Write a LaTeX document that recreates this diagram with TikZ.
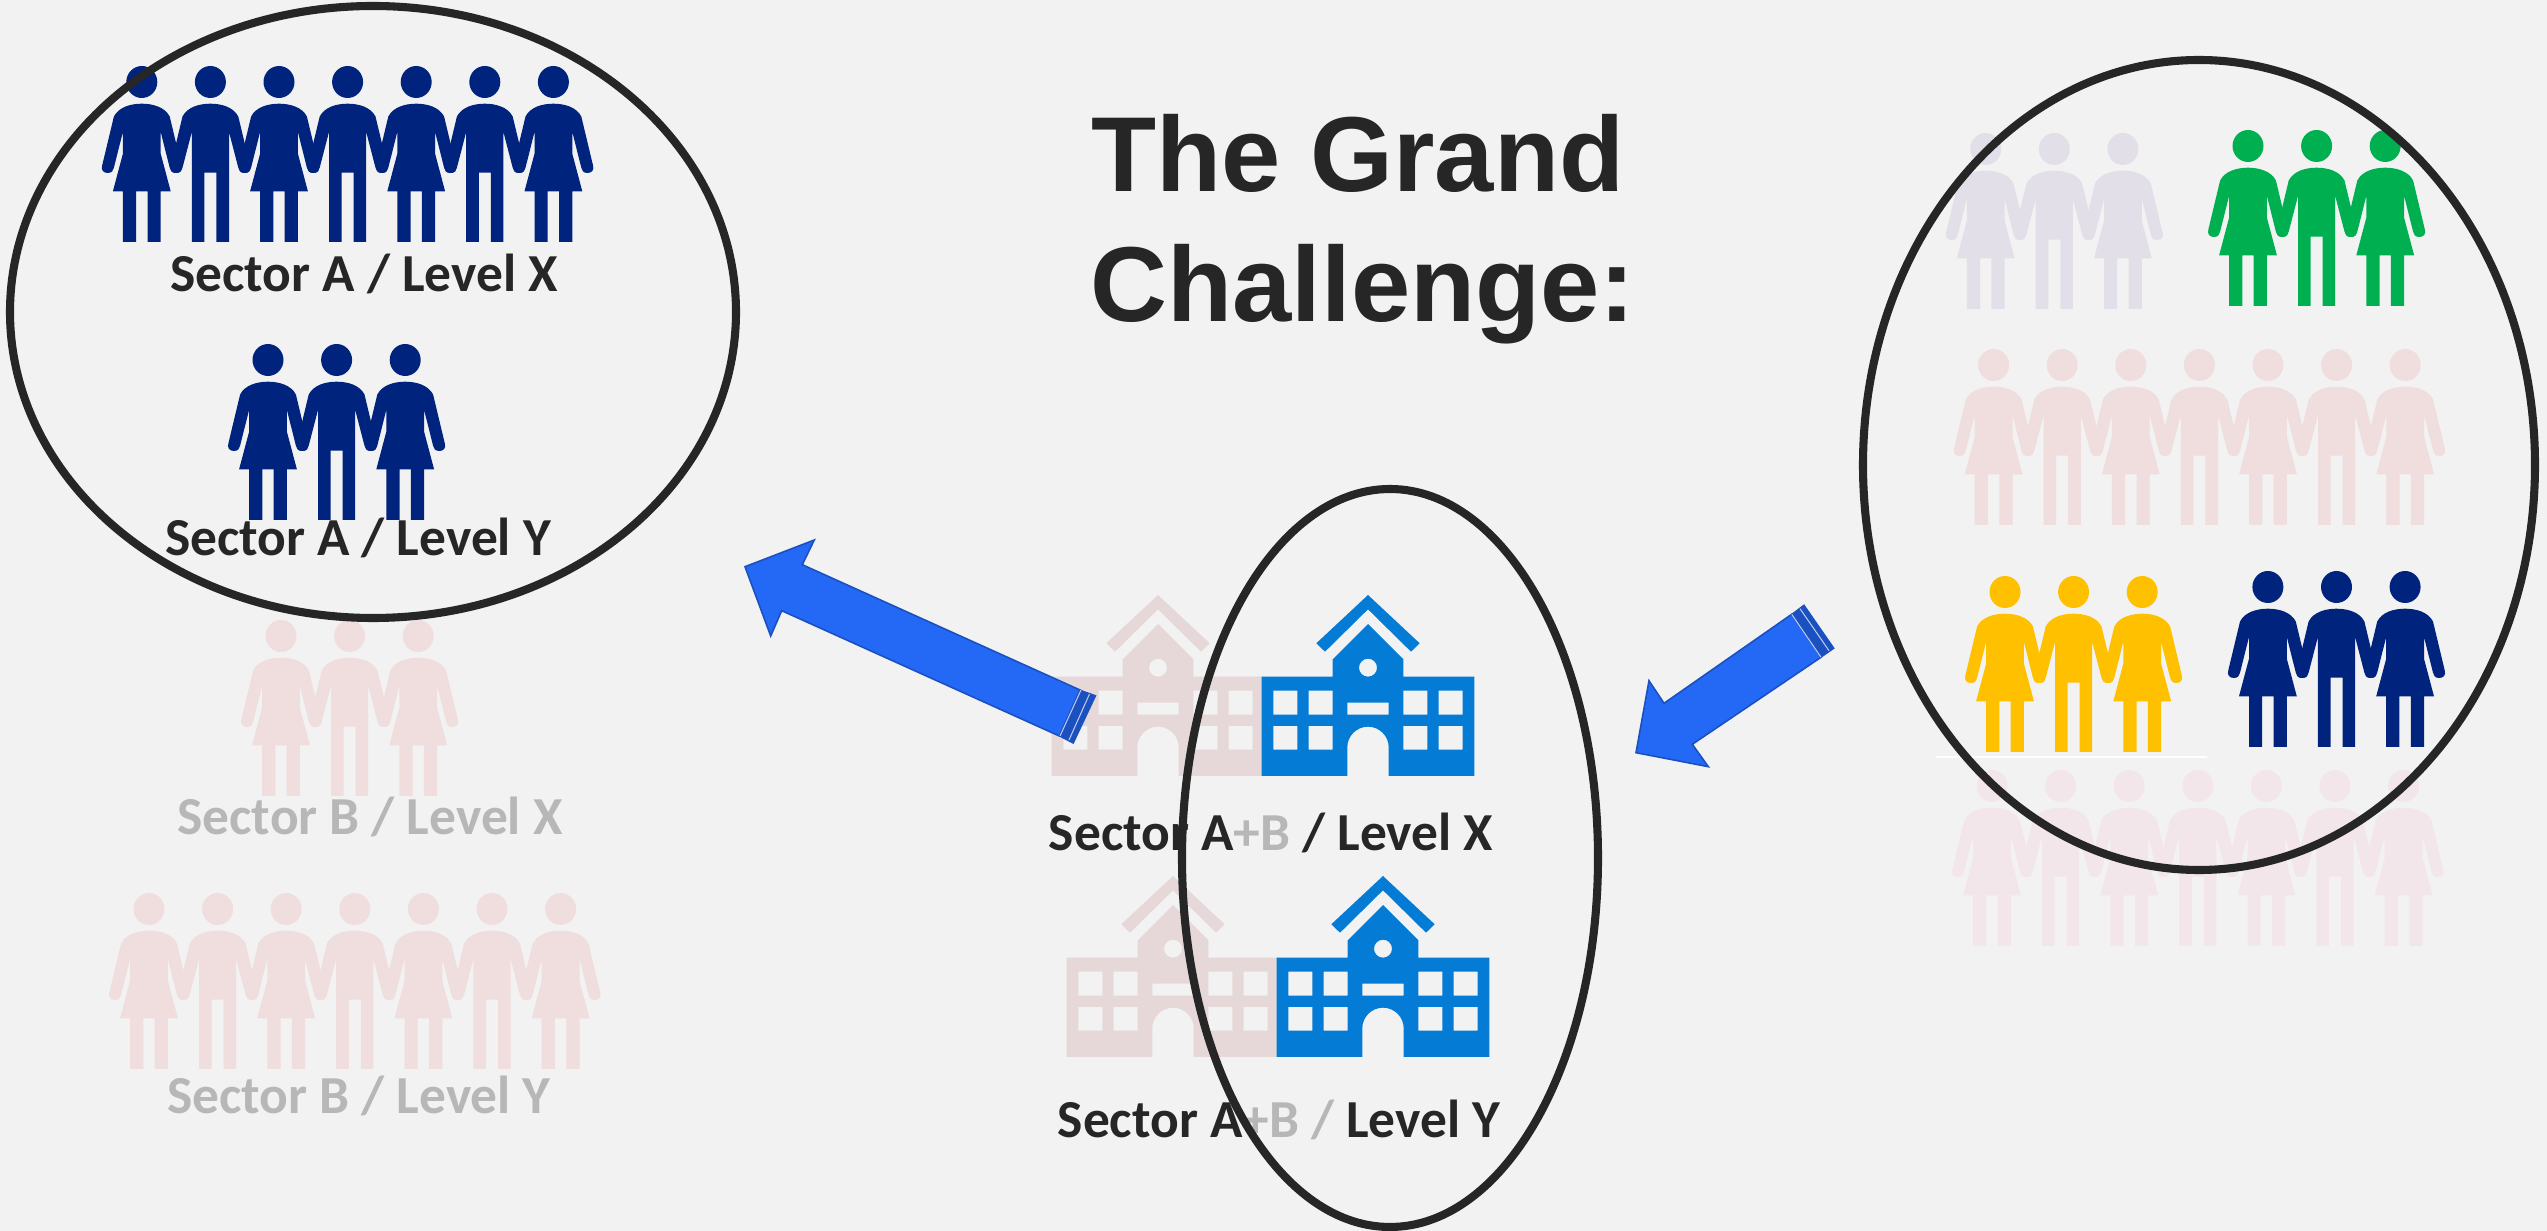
\documentclass[tikz,border=0pt]{standalone}
\usepackage{fontspec}
\setmainfont{Carlito}
\newfontfamily\titlefont{Liberation Sans}
\definecolor{bgc}{HTML}{F2F2F2}
\definecolor{ink}{HTML}{262626}
\definecolor{navyp}{HTML}{00247D}
\definecolor{greenp}{HTML}{00B050}
\definecolor{yellowp}{HTML}{FFC000}
\definecolor{lavp}{HTML}{E3DFE9}
\definecolor{pinkp}{HTML}{F0DEDE}
\definecolor{paleb}{HTML}{F2E6EA}
\definecolor{fadeh}{HTML}{E6D8D8}
\definecolor{blueh}{HTML}{047BD4}
\definecolor{greyt}{HTML}{B7B7B7}
\definecolor{arrowf}{HTML}{2469F5}
\definecolor{arrowd}{HTML}{1A50C0}
\newcommand\wm[3]{\fill[#1,shift={(#2,#3)}]
  (0,16) ellipse [x radius=15.5,y radius=16]
  (0,37.7) .. controls (-11,37.7) and (-23,41) .. (-27.9,50.5) -- (-39.6,99.3)
  .. controls (-41,104) and (-38.5,107) .. (-34,107)
  .. controls (-30,107) and (-28.3,104.5) .. (-27.9,101.7)
  -- (-18.9,66) -- (-18.9,87.7) -- (-28.9,125.3) -- (-18.9,125.3) -- (-18.9,176)
  -- (-5.7,176) -- (-5.7,125.3) -- (5.7,125.3) -- (5.7,176) -- (18.9,176)
  -- (18.9,125.3) -- (28.9,125.3) -- (18.9,87.7) -- (18.9,66) -- (27.9,101.7)
  .. controls (28.3,104.5) and (30,107) .. (34,107)
  .. controls (38.5,107) and (41,104) .. (39.6,99.3)
  -- (27.9,50.5) .. controls (23,41) and (11,37.7) .. (0,37.7) -- cycle;}
\newcommand\mn[3]{\fill[#1,shift={(#2,#3)}]
  (0,16) ellipse [x radius=15.5,y radius=16]
  (0,37.7) .. controls (-11,37.7) and (-23,41) .. (-27.9,50.5) -- (-39.6,99.3)
  .. controls (-41,104) and (-38.5,107) .. (-34,107)
  .. controls (-30,107) and (-28.3,104.5) .. (-27.9,101.7)
  -- (-18.6,66) -- (-18.6,176) -- (-6,176) -- (-6,106.7) -- (6,106.7) -- (6,176)
  -- (18.6,176) -- (18.6,66) -- (27.9,101.7)
  .. controls (28.3,104.5) and (30,107) .. (34,107)
  .. controls (38.5,107) and (41,104) .. (39.6,99.3)
  -- (27.9,50.5) .. controls (23,41) and (11,37.7) .. (0,37.7) -- cycle;}
\newcommand\rowseven[3]{%
  \foreach \i in {0,2,4,6} {\wm{#1}{#2+\i*68.6}{#3}}%
  \foreach \i in {1,3,5} {\mn{#1}{#2+\i*68.6}{#3}}}
\newcommand\rowthree[3]{%
  \foreach \i in {0,2} {\wm{#1}{#2+\i*68.6}{#3}}%
  \mn{#1}{#2+68.6}{#3}}
\newcommand\school[3]{%
  \fill[#1,even odd rule,shift={(#2,#3)}]
  (-51.7,48.3) -- (0,0) -- (51.7,48.3) -- (43,56.7) -- (0,14.3) -- (-43,56.7) -- cycle
  (-106.3,81.7) -- (-35.3,81.7) -- (-35.3,64.3) -- (0,29) -- (35.3,64.3) -- (35.3,81.7)
  -- (106.3,81.7) -- (106.3,181) -- (20.7,181) -- (20.7,152.4)
  .. controls (20.7,141) and (11.4,131.7) .. (0,131.7)
  .. controls (-11.4,131.7) and (-20.7,141) .. (-20.7,152.4)
  -- (-20.7,181) -- (-106.3,181) -- cycle
  (0,72.7) ellipse [x radius=9,y radius=9]
  (-20.7,107.7) rectangle (20.7,119.7)
  (-94.7,95.7) rectangle (-70.7,119.7) (-59.3,95.7) rectangle (-35.3,119.7)
  (35.3,95.7) rectangle (59.3,119.7) (70.7,95.7) rectangle (94.7,119.7)
  (-94.7,131) rectangle (-70.7,154.7) (-59.3,131) rectangle (-35.3,154.7)
  (35.3,131) rectangle (59.3,154.7) (70.7,131) rectangle (94.7,154.7);}
\tikzset{
  x=0.01cm,y=-0.01cm,
  ring/.style={draw=ink,line width=2.3pt},
  sector/.style={font=\fontsize{15.2}{17}\selectfont\bfseries,text=ink,anchor=base,inner sep=0pt},
  faded/.style={sector,text=greyt},
  gtitle/.style={font=\titlefont\fontsize{30.3}{36}\selectfont\bfseries,text=ink,anchor=base,inner sep=0pt},
  barrow/.style={fill=arrowf,draw=arrowd,line width=0.45pt,line join=miter},
  bandline/.style={draw=arrowd!30!white,line width=0.3pt},
  bandfill/.style={fill=arrowd,draw=arrowd,line width=0.3pt},
}
\begin{document}
\begin{tikzpicture}
\useasboundingbox (0,0) rectangle (2547,1231);
\fill[bgc] (0,0) rectangle (2547,1231);

% faded people, left
\rowthree{pinkp}{281}{620}
\rowseven{pinkp}{149}{893}
% right column
\rowthree{lavp}{1985.7}{133}
\rowthree{greenp}{2248}{130}
\rowseven{pinkp}{1993.6}{349}
\rowthree{yellowp}{2005}{576}
\rowthree{navyp}{2267.9}{571}
\rowseven{paleb}{1992}{770}
\draw[white,line width=0.35pt] (1936,757) -- (2207,757);
% top-left people
\rowseven{navyp}{141.8}{66}
\rowthree{navyp}{268}{344}

% schools
\school{fadeh}{1158}{595}
\school{blueh}{1368}{595}
\school{fadeh}{1173}{876}
\school{blueh}{1383}{876}

% texts
\node[gtitle] (t1) at (1358,192) {The Grand};
\node[gtitle] (t2) at (1363,322) {Challenge:};
\node[sector] (sax) at (364,292) {Sector A / Level X};
\node[sector] (say) at (358,556) {Sector A / Level Y};
\node[faded] (sbx) at (370,835) {Sector B / Level X};
\node[faded] (sby) at (359,1114) {Sector B / Level Y};
\node[sector] (abx) at (1271,851) {Sector A\textcolor{greyt}{+B} / Level X};
\node[sector] (aby) at (1279,1138) {Sector A\textcolor{greyt}{+B /} Level Y};

% rings
\draw[ring] (373,312) ellipse [x radius=363,y radius=306];
\draw[ring] (2199,465) ellipse [x radius=336,y radius=405];
\draw[ring] (1390,858) ellipse [x radius=208,y radius=369];

% block arrows
\path[bandfill] (1080,690) -- (1095.7,695.7) -- (1073.3,743.3) -- (1059.3,736) -- cycle;
\path[barrow] (745,566.7) -- (814.3,540) -- (802.3,564.7) -- (1080,690) -- (1059.3,736) -- (781.7,610.7) -- (770.7,636) -- cycle;
\draw[bandline] (1081,690) -- (1060,736);
\draw[bandline] (1089.5,694) -- (1069,740);
\path[bandfill] (1791.7,614.3) -- (1804,605) -- (1834,648.3) -- (1821,657.3) -- cycle;
\path[barrow] (1636,752.7) -- (1649,680.7) -- (1664,703.3) -- (1791.7,614.3) -- (1821,657.3) -- (1692.3,744.3) -- (1708.3,766.7) -- cycle;
\draw[bandline] (1791.7,614.3) -- (1821,657.3);
\draw[bandline] (1800,608.7) -- (1829,650.7);
\end{tikzpicture}
\end{document}
